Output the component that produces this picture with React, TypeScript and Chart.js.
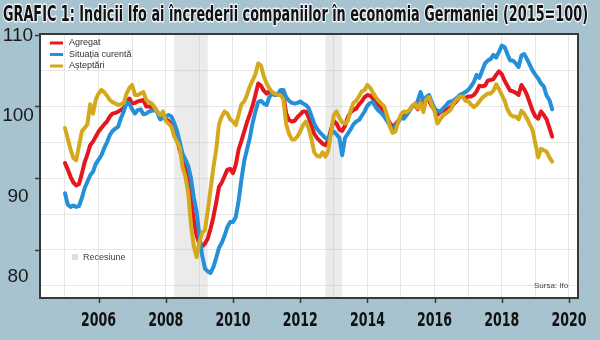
import React, { useEffect, useRef } from "react";
import { Chart, registerables } from "chart.js";

Chart.register(...registerables);

// ---- Data (monthly, starting January 2005) ----
const startYear = 2005;

const agregat = [
  92.1, 91.2, 90.2, 89.4, 89.0, 89.2, 90.6, 92.2, 93.3, 94.6, 95.1, 95.8,
  96.5, 97.0, 97.5, 97.9, 98.6, 99.0, 99.1, 99.3, 99.5, 99.8, 100.4, 101.1,
  100.4, 100.5, 100.7, 100.8, 100.9, 100.0, 100.0, 99.9, 99.8, 99.2, 98.4, 98.6,
  98.2, 98.0, 97.4, 96.6, 95.5, 93.9, 92.6, 91.4, 90.2, 87.0, 84.2, 82.0,
  80.9, 80.5, 80.9, 81.6, 83.0, 84.6, 86.6, 88.8, 89.4, 90.3, 91.2, 91.3,
  90.7, 91.9, 94.0, 95.2, 96.5, 97.8, 98.9, 100.1, 101.6, 103.2, 102.9, 102.2,
  101.8, 102.1, 101.8, 101.6, 101.7, 101.8, 101.6, 99.0, 98.1, 97.9, 98.0, 98.5,
  98.9, 99.3, 99.3, 98.5, 97.3, 96.2, 95.6, 95.2, 94.8, 94.6, 95.3, 96.8,
  98.0, 97.6, 96.8, 96.6, 97.3, 98.5, 99.2, 99.5, 99.7, 100.3, 100.7, 101.3,
  101.6, 101.5, 101.1, 100.5, 100.2, 99.8, 99.2, 98.5, 97.7, 97.2, 97.5, 98.0,
  98.6, 99.0, 98.9, 99.4, 100.0, 100.2, 99.6, 100.6, 99.6, 101.2, 100.8, 100.0,
  99.6, 98.8, 99.2, 99.4, 99.5, 99.7, 100.0, 100.4, 100.8, 101.4, 101.3, 101.2,
  101.4, 101.4, 101.6, 102.1, 102.9, 102.8, 102.9, 103.6, 103.7, 103.8, 104.4, 104.9,
  104.5, 103.6, 102.9, 102.2, 102.1, 101.9, 101.6, 103.0, 102.4, 101.6, 100.5, 99.4,
  98.6, 98.3, 99.3, 98.8, 98.2, 97.0, 95.8,
];

const situatiaCurenta = [
  87.9, 86.3, 86.0, 86.2, 86.0, 86.1, 87.2, 88.6, 89.5, 90.4, 90.9, 92.0,
  92.6, 93.2, 94.2, 95.0, 96.0, 96.6, 96.9, 97.2, 98.4, 99.3, 100.6, 100.4,
  99.6, 99.0, 99.5, 99.6, 98.9, 99.0, 99.3, 99.4, 99.5, 99.2, 98.2, 98.4,
  98.6, 98.8, 98.6, 97.7, 96.6, 95.0, 93.4, 92.6, 91.7, 90.0, 87.3, 85.3,
  82.0, 79.2, 77.4, 77.0, 76.8, 77.6, 78.9, 80.3, 81.0, 82.0, 83.2, 83.9,
  83.9, 84.6, 86.8, 89.8, 92.4, 94.0, 95.6, 97.7, 99.3, 100.6, 100.8, 100.4,
  100.2, 101.3, 101.8, 101.6, 101.7, 102.3, 102.3, 101.3, 100.8, 100.5, 100.4, 100.5,
  100.7, 100.4, 100.2, 99.8, 98.7, 97.6, 96.9, 96.4, 96.0, 95.6, 95.4, 96.2,
  96.5, 96.1, 95.6, 93.2, 95.6, 96.2, 96.8, 97.5, 97.9, 98.1, 98.7, 99.3,
  100.1, 100.5, 100.6, 99.9, 99.4, 99.1, 98.6, 98.0, 97.4, 96.5, 97.3, 97.8,
  98.4, 98.3, 98.8, 99.4, 100.0, 100.2, 100.8, 102.0, 100.8, 101.3, 101.6, 100.6,
  99.7, 99.4, 99.3, 99.7, 100.1, 100.6, 100.7, 100.9, 101.2, 101.6, 101.8, 102.0,
  102.3, 102.8, 103.4, 104.4, 104.0, 105.0, 106.0, 106.4, 106.6, 107.2, 106.8, 107.6,
  108.5, 108.3, 107.3, 106.4, 106.4, 106.0, 105.5, 107.1, 107.3, 106.6, 105.8, 105.0,
  104.4, 103.9, 103.2, 102.8, 101.5, 100.9, 99.6,
];

const asteptari = [
  97.0, 95.5, 94.0, 92.8, 92.5, 94.5, 96.5, 97.0, 97.5, 100.3, 99.0, 101.0,
  101.8, 102.3, 102.0, 101.5, 100.9, 100.6, 100.4, 100.2, 100.3, 100.5, 101.8, 102.6,
  103.0, 101.6, 101.6, 101.8, 102.0, 100.9, 100.6, 100.4, 99.9, 99.2, 98.8, 99.3,
  98.0, 97.6, 97.2, 95.8, 95.1, 94.3, 91.5, 90.2, 88.0, 83.5, 80.5, 79.0,
  81.1, 82.4, 82.8, 85.5, 88.5, 91.5, 94.0, 97.5, 98.6, 99.3, 99.0, 98.2,
  97.9, 97.4, 98.8, 100.3, 100.7, 101.6, 102.8, 103.6, 104.5, 106.0, 105.7, 104.2,
  103.2, 102.5, 102.0, 101.8, 101.6, 101.6, 101.0, 97.5, 96.2, 95.4, 95.4, 95.8,
  96.5, 97.4, 97.9, 97.0, 95.5, 93.6, 93.1, 93.0, 93.6, 93.0, 93.8, 96.3,
  98.8, 99.3, 98.4, 97.8, 97.6, 98.0, 99.4, 100.5, 100.8, 101.4, 102.1, 102.3,
  103.0, 102.6, 101.9, 101.3, 100.8, 100.4, 100.0, 98.8, 97.2, 96.3, 96.5, 97.8,
  98.9, 99.3, 99.2, 99.5, 100.1, 100.4, 99.7, 100.5, 99.2, 101.0, 101.3, 100.2,
  99.3, 97.6, 98.2, 98.7, 99.0, 99.3, 99.7, 100.6, 101.0, 101.4, 101.4, 100.8,
  100.7, 100.3, 99.9, 100.2, 100.7, 101.2, 101.5, 101.8, 101.8, 102.2, 103.1, 102.4,
  101.6, 100.8, 99.6, 98.9, 98.6, 98.6, 98.2, 99.4, 99.0, 98.3, 97.5, 96.7,
  94.8, 92.9, 94.1, 93.9, 93.7, 92.9, 92.3,
];

const seriesNames = ["Agregat", "Situația curentă", "Așteptări"];
const xTickYears = [2006, 2008, 2010, 2012, 2014, 2016, 2018, 2020];
const yTickLabels = [80, 90, 100, 110];
const recessionStart = [2008.25, 2012.75];
const recessionEnd = [2009.25, 2013.25];
const titleText =
  "GRAFIC 1: Indicii Ifo ai încrederii companiilor în economia Germaniei (2015=100)";
const recessionLabel = "Recesiune";
const sourceLabel = "Sursa: Ifo";

// ---- Styles ----
const COLORS = ["#e5161e", "#2590d8", "#d5a91c"];
const BG = "#a7c3cf";
const FRAME = "#383838";
const HEAVY = "bold 20px 'DejaVu Sans', 'Liberation Sans', Arial, sans-serif";

const toPoints = (arr: number[]) =>
  arr.map((v, i) => ({ x: startYear + i / 12, y: v }));

function fitText(
  ctx: CanvasRenderingContext2D,
  text: string,
  x: number,
  y: number,
  font: string,
  targetWidth: number,
  align: "left" | "center",
  outline?: boolean
) {
  ctx.save();
  ctx.font = font;
  const w = ctx.measureText(text).width;
  const sx = targetWidth / w;
  const startX = align === "center" ? x - targetWidth / 2 : x;
  ctx.translate(startX, y);
  ctx.scale(sx, 1);
  ctx.textAlign = "left";
  ctx.textBaseline = "alphabetic";
  if (outline) {
    ctx.lineJoin = "round";
    ctx.strokeStyle = "rgba(255,255,255,0.85)";
    ctx.lineWidth = 3;
    ctx.strokeText(text, 0, 0);
  }
  ctx.fillStyle = "#111";
  ctx.fillText(text, 0, 0);
  ctx.restore();
}

const decorPlugin = {
  id: "decor",
  beforeDraw(chart: any) {
    const { ctx, chartArea: a } = chart;
    ctx.save();
    ctx.fillStyle = BG;
    ctx.fillRect(0, 0, chart.width, chart.height);
    ctx.fillStyle = "#ffffff";
    ctx.fillRect(a.left, a.top, a.right - a.left, a.bottom - a.top);
    ctx.restore();
  },
  beforeDatasetsDraw(chart: any) {
    const { ctx, chartArea: a, scales } = chart;
    const xs = scales.x;
    ctx.save();
    ctx.fillStyle = "rgba(190,190,190,0.3)";
    for (let i = 0; i < recessionStart.length; i++) {
      const x0 = xs.getPixelForValue(recessionStart[i]);
      const x1 = xs.getPixelForValue(recessionEnd[i]);
      ctx.fillRect(x0, a.top, x1 - x0, a.bottom - a.top);
    }
    ctx.restore();
  },
  afterDraw(chart: any) {
    const { ctx, chartArea: a, scales } = chart;
    const xs = scales.x;
    const ys = scales.y;
    ctx.save();
    // frame
    ctx.strokeStyle = FRAME;
    ctx.lineWidth = 2;
    ctx.strokeRect(a.left, a.top, a.right - a.left, a.bottom - a.top);
    // tick marks
    ctx.lineWidth = 1.5;
    yTickLabels.forEach((v) => {
      const y = Math.round(ys.getPixelForValue(v)) + 0.5;
      ctx.beginPath();
      ctx.moveTo(a.left - 5, y);
      ctx.lineTo(a.left, y);
      ctx.stroke();
    });
    xTickYears.forEach((yr) => {
      const x = Math.round(xs.getPixelForValue(yr)) + 0.5;
      ctx.beginPath();
      ctx.moveTo(x, a.bottom);
      ctx.lineTo(x, a.bottom + 5);
      ctx.stroke();
    });
    // y labels (spaced slightly wider than ticks, as in the original)
    const y110 = ys.getPixelForValue(110);
    const step10 = ys.getPixelForValue(100) - y110;
    ctx.fillStyle = "#1a1a1a";
    ctx.font = "19px 'Liberation Sans', Arial, sans-serif";
    ctx.textAlign = "center";
    ctx.textBaseline = "middle";
    yTickLabels.forEach((v) => {
      const y = y110 + ((110 - v) / 10) * step10 * 1.12 + 1;
      ctx.fillText(String(v), 18, y);
    });
    // x labels (bold condensed)
    xTickYears.forEach((yr) => {
      const x = xs.getPixelForValue(yr);
      fitText(ctx, String(yr), x, a.bottom + 28, HEAVY, 35, "center");
    });
    // title
    fitText(ctx, titleText, 3, 21, "bold 21px 'DejaVu Sans', 'Liberation Sans', Arial, sans-serif", 585, "left", true);
    // legend
    ctx.font = "9px 'Liberation Sans', Arial, sans-serif";
    ctx.textAlign = "left";
    ctx.textBaseline = "middle";
    seriesNames.forEach((name, i) => {
      const y = a.top + 9 + i * 11.5;
      ctx.strokeStyle = COLORS[i];
      ctx.lineWidth = 3;
      ctx.beginPath();
      ctx.moveTo(a.left + 10, y);
      ctx.lineTo(a.left + 23, y);
      ctx.stroke();
      ctx.fillStyle = "#333";
      ctx.fillText(name, a.left + 29, y);
    });
    // recession legend
    ctx.fillStyle = "#dedede";
    ctx.fillRect(72, 254, 6, 6);
    ctx.fillStyle = "#444";
    ctx.fillText(recessionLabel, 83, 257.5);
    // source
    ctx.font = "8px 'Liberation Sans', Arial, sans-serif";
    ctx.fillText(sourceLabel, 534, a.bottom - 12);
    ctx.restore();
  },
};

export default function App() {
  const ref = useRef<HTMLCanvasElement | null>(null);

  useEffect(() => {
    if (!ref.current) return;
    const common = {
      pointRadius: 0,
      borderWidth: 4,
      tension: 0,
      fill: false,
      borderJoinStyle: "round" as const,
      borderCapStyle: "round" as const,
    };
    const chart = new Chart(ref.current, {
      type: "line",
      data: {
        datasets: [
          { ...common, label: seriesNames[0], data: toPoints(agregat), borderColor: COLORS[0], order: 2 },
          { ...common, label: seriesNames[1], data: toPoints(situatiaCurenta), borderColor: COLORS[1], order: 1 },
          { ...common, label: seriesNames[2], data: toPoints(asteptari), borderColor: COLORS[2], order: 0 },
        ],
      },
      options: {
        animation: false,
        responsive: false,
        devicePixelRatio: 1,
        layout: { padding: { top: 34, right: 22, left: 0, bottom: 0 } },
        plugins: {
          legend: { display: false },
          tooltip: { enabled: false },
          title: { display: false },
        },
        scales: {
          x: {
            type: "linear",
            min: 2004.256,
            max: 2020.268,
            ticks: { display: false, stepSize: 1, includeBounds: false },
            grid: { color: "#e6e6e6", lineWidth: 1, drawTicks: false },
            border: { display: false },
            afterFit: (s: any) => {
              s.height = 42;
            },
          },
          y: {
            type: "linear",
            min: 73.3,
            max: 110.1,
            ticks: { display: false, stepSize: 5, includeBounds: false },
            grid: { color: "#e6e6e6", lineWidth: 1, drawTicks: false },
            border: { display: false },
            afterFit: (s: any) => {
              s.width = 40;
            },
          },
        },
      },
      plugins: [decorPlugin],
    });
    return () => chart.destroy();
  }, []);

  return (
    <div style={{ position: "fixed", left: 0, top: 0, width: 600, height: 340 }}>
      <canvas ref={ref} width={600} height={340} style={{ display: "block" }} />
    </div>
  );
}
